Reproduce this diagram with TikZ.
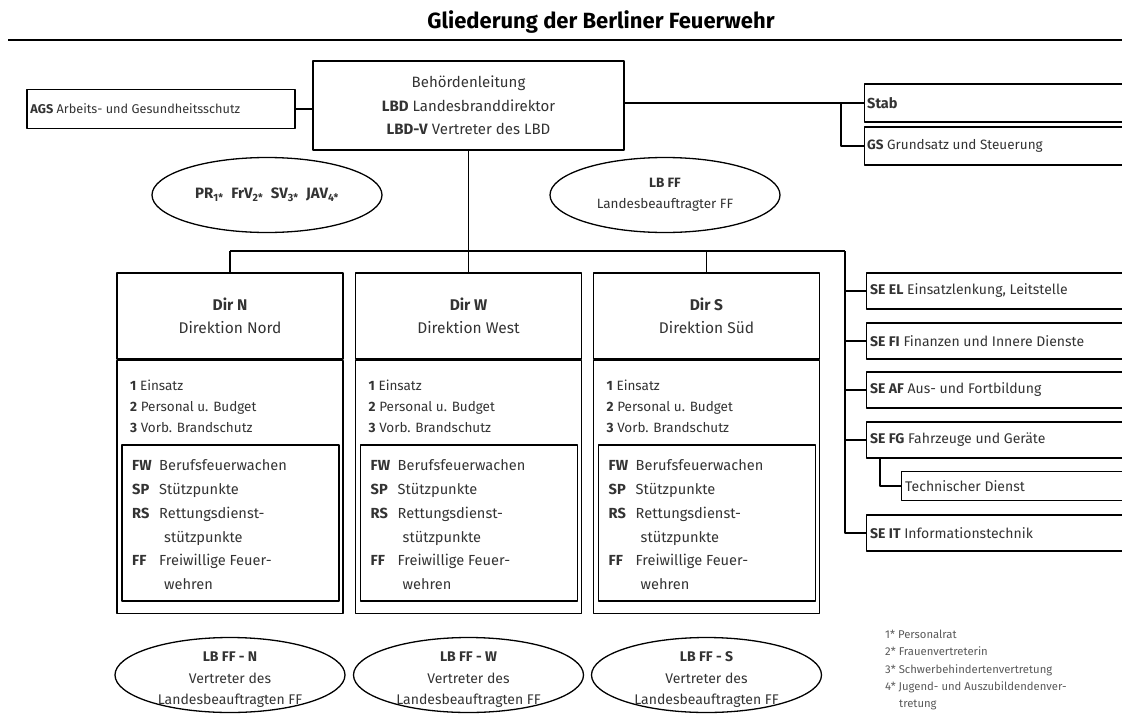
\documentclass[tikz,border=0pt]{standalone}
\usepackage{fontspec}
\setmainfont{Fira Sans}
\usetikzlibrary{shapes.geometric}

\begin{document}
\begin{tikzpicture}[x=1pt,y=-1pt,line join=round,
  box/.style={draw,line width=1.4pt,rectangle,inner sep=0pt},
  head/.style={box,minimum width=226pt,minimum height=86pt,align=center,text=black!80,font=\fontsize{15.5}{23}\selectfont},
  body/.style={box,anchor=north,minimum width=226pt,minimum height=253pt},
  unitbox/.style={box,line width=1.8pt,minimum width=217pt,minimum height=156pt},
  sebox/.style={box,anchor=west,minimum width=264pt,minimum height=36pt},
  oval/.style={draw,line width=1.3pt,ellipse,minimum width=230pt,minimum height=75pt,inner sep=0pt},
  link/.style={line width=1.4pt},
  txt/.style={text=black!80,inner sep=0pt,font=\fontsize{13.5}{21}\selectfont}]
  \useasboundingbox (0,0) rectangle (1122,718);
  \clip (0,0) rectangle (1122,718);
  % title and rule
  \node[font=\bfseries\fontsize{22}{25}\selectfont] (title) at (601,22) {Gliederung der Berliner Feuerwehr};
  \coordinate (rl) at (8,40);
  \coordinate (rr) at (1122,40);
  \draw[line width=1.5pt] (rl) -- (rr);

  % Behoerdenleitung
  \node[box,minimum width=311pt,minimum height=89pt,align=center,text=black!80,font=\fontsize{15}{23.5}\selectfont] (lbd) at (468.5,105.5)
    {Behördenleitung\\ \textbf{LBD} Landesbranddirektor\\ \textbf{LBD-V} Vertreter des LBD};
  \node[box,minimum width=268pt,minimum height=39pt] (ags) at (161,109) {};
  \node[txt,anchor=west,font=\fontsize{12.7}{16}\selectfont] (agst) at ([xshift=4pt]ags.west) {\textbf{AGS} Arbeits- und Gesundheitsschutz};
  \node[box,anchor=west,minimum width=264pt,minimum height=38pt] (stab) at (864,103) {};
  \node[txt,anchor=west,font=\bfseries\fontsize{14.5}{16}\selectfont] (stabt) at ([xshift=3pt]stab.west) {Stab};
  \node[box,anchor=west,minimum width=264pt,minimum height=38pt] (gs) at (864,146) {};
  \node[txt,anchor=west] (gst) at ([xshift=3pt]gs.west) {\textbf{GS} Grundsatz und Steuerung};
  \coordinate (sj) at (841,103);
  \draw[link] (ags.east) -- (ags.east -| lbd.west);
  \draw[link] (lbd.east |- stab.west) -- (stab.west);
  \draw[link] (sj) |- (gs.west);

  % Vertretungen
  \node[oval] (pr) at (267,195) {};
  \node[txt,font=\bfseries\fontsize{15}{16}\selectfont] (prt) at (pr) {PR\textsubscript{1*}\; FrV\textsubscript{2*}\; SV\textsubscript{3*}\; JAV\textsubscript{4*}};
  \node[oval] (lbff) at (665,195) {};
  \node[txt,align=center] (lbfft) at (lbff) {\textbf{LB FF}\\ Landesbeauftragter FF};

  % Verteiler
  \coordinate (bn) at (230,251);
  \coordinate (be) at (845,251);
  \draw[link] (lbd.south) -- (lbd.south |- bn);
  \draw[link] (bn) -- (be);

  % Direktion Nord
  \node[head] (dirn) at (230,316) {\textbf{Dir N}\\ Direktion Nord};
  \node[body] (bodyn) at (dirn.south) {};
  \node[unitbox] (unitn) at (230.5,523) {};
  \node[txt,anchor=west,align=left] (listn) at (130,406) {\textbf{1} Einsatz\\ \textbf{2} Personal u. Budget\\ \textbf{3} Vorb. Brandschutz};
  \node[txt,anchor=west,font=\fontsize{14.6}{23.8}\selectfont] (wachn) at (132,525.5) {\begin{tabular}{@{}p{27pt}@{}l@{}}
    \textbf{FW} & Berufsfeuerwachen\\ \textbf{SP} & Stützpunkte\\ \textbf{RS} & Rettungsdienst-\\ & \hspace{5pt}stützpunkte\\
    \textbf{FF} & Freiwillige Feuer-\\ & \hspace{5pt}wehren\end{tabular}};
  \draw[link] (dirn.north |- bn) -- (dirn.north);

  % Direktion West
  \node[head] (dirw) at (468.5,316) {\textbf{Dir W}\\ Direktion West};
  \node[body] (bodyw) at (dirw.south) {};
  \node[unitbox] (unitw) at (469,523) {};
  \node[txt,anchor=west,align=left] (listw) at (368.5,406) {\textbf{1} Einsatz\\ \textbf{2} Personal u. Budget\\ \textbf{3} Vorb. Brandschutz};
  \node[txt,anchor=west,font=\fontsize{14.6}{23.8}\selectfont] (wachw) at (370.5,525.5) {\begin{tabular}{@{}p{27pt}@{}l@{}}
    \textbf{FW} & Berufsfeuerwachen\\ \textbf{SP} & Stützpunkte\\ \textbf{RS} & Rettungsdienst-\\ & \hspace{5pt}stützpunkte\\
    \textbf{FF} & Freiwillige Feuer-\\ & \hspace{5pt}wehren\end{tabular}};
  \draw[link] (dirw.north |- bn) -- (dirw.north);

  % Direktion Sued
  \node[head] (dirs) at (706.5,316) {\textbf{Dir S}\\ Direktion Süd};
  \node[body] (bodys) at (dirs.south) {};
  \node[unitbox] (units) at (707,523) {};
  \node[txt,anchor=west,align=left] (lists) at (606.5,406) {\textbf{1} Einsatz\\ \textbf{2} Personal u. Budget\\ \textbf{3} Vorb. Brandschutz};
  \node[txt,anchor=west,font=\fontsize{14.6}{23.8}\selectfont] (wachs) at (608.5,525.5) {\begin{tabular}{@{}p{27pt}@{}l@{}}
    \textbf{FW} & Berufsfeuerwachen\\ \textbf{SP} & Stützpunkte\\ \textbf{RS} & Rettungsdienst-\\ & \hspace{5pt}stützpunkte\\
    \textbf{FF} & Freiwillige Feuer-\\ & \hspace{5pt}wehren\end{tabular}};
  \draw[link] (dirs.north |- bn) -- (dirs.north);

  % Serviceeinheiten
  \tikzset{txt/.append style={font=\fontsize{14}{16}\selectfont}}
  \node[sebox] (seel) at (866,291) {};
  \node[txt,anchor=west] (seelt) at ([xshift=4pt]seel.west) {\textbf{SE EL} Einsatzlenkung, Leitstelle};
  \node[sebox] (sefi) at (866,341) {};
  \node[txt,anchor=west] (sefit) at ([xshift=4pt]sefi.west) {\textbf{SE FI} Finanzen und Innere Dienste};
  \node[sebox] (seaf) at (866,390) {};
  \node[txt,anchor=west] (seaft) at ([xshift=4pt]seaf.west) {\textbf{SE AF} Aus- und Fortbildung};
  \node[sebox] (sefg) at (866,440) {};
  \node[txt,anchor=west] (sefgt) at ([xshift=4pt]sefg.west) {\textbf{SE FG} Fahrzeuge und Geräte};
  \node[box,anchor=west,minimum width=230pt,minimum height=29pt] (td) at (901,486) {};
  \node[txt,anchor=west] (tdt) at ([xshift=4pt]td.west) {Technischer Dienst};
  \node[sebox] (seit) at (866,533) {};
  \node[txt,anchor=west] (seitt) at ([xshift=4pt]seit.west) {\textbf{SE IT} Informationstechnik};
  \draw[link] (be) |- (seit.west);
  \draw[link] (be |- seel.west) -- (seel.west);
  \draw[link] (be |- sefi.west) -- (sefi.west);
  \draw[link] (be |- seaf.west) -- (seaf.west);
  \draw[link] (be |- sefg.west) -- (sefg.west);
  \draw[link] ([xshift=14pt]sefg.south west) |- (td.west);

  % Landesbeauftragte der Direktionen
  \tikzset{txt/.append style={font=\fontsize{14}{21.5}\selectfont}}
  \node[oval] (lbn) at (230,675) {};
  \node[txt,align=center] (lbnt) at ([yshift=-5pt]lbn.center) {\textbf{LB FF - N}\\ Vertreter des\\ Landesbeauftragten FF};
  \node[oval] (lbw) at (468.5,675) {};
  \node[txt,align=center] (lbwt) at ([yshift=-5pt]lbw.center) {\textbf{LB FF - W}\\ Vertreter des\\ Landesbeauftragten FF};
  \node[oval] (lbs) at (706.5,675) {};
  \node[txt,align=center] (lbst) at ([yshift=-5pt]lbs.center) {\textbf{LB FF - S}\\ Vertreter des\\ Landesbeauftragten FF};

  % Fussnoten
  \node[txt,anchor=north west,align=left,text=black!65,font=\fontsize{11.3}{17.3}\selectfont] (fn) at (885,630)
    {1* Personalrat\\ 2* Frauenvertreterin\\ 3* Schwerbehindertenvertretung\\ 4* Jugend- und Auszubildendenver-\\ \hspace{14pt}tretung};
\end{tikzpicture}
\end{document}
